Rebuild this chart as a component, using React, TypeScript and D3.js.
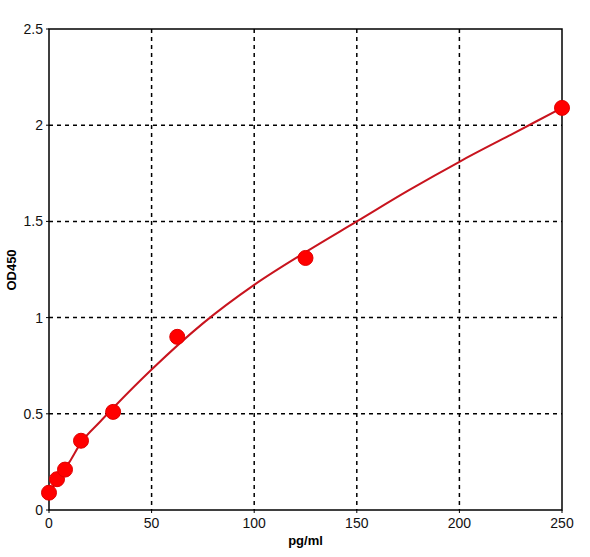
import React from 'react';
import * as d3 from 'd3';

// Standards (pg/ml) and measured OD450
const concentrations = [0, 3.9, 7.8, 15.6, 31.25, 62.5, 125, 250];
const odValues = [0.09, 0.16, 0.21, 0.36, 0.51, 0.9, 1.31, 2.09];

// Fitted standard curve
const curveX = [0, 5, 10, 15.6, 25, 31.25, 50, 75, 100, 125, 150, 175, 200, 225, 250];
const curveY = [0.09, 0.17, 0.25, 0.35, 0.46, 0.53, 0.73, 0.97, 1.17, 1.34, 1.5, 1.66, 1.81, 1.95, 2.09];

const xTicks = [0, 50, 100, 150, 200, 250];
const yTicks = [0, 0.5, 1, 1.5, 2, 2.5];

const W = 590;
const H = 557;
const margin = { top: 29, right: 28, bottom: 47, left: 49 };

const App: React.FC = () => {
  const innerW = W - margin.left - margin.right;
  const innerH = H - margin.top - margin.bottom;

  const x = d3.scaleLinear().domain([0, 250]).range([0, innerW]);
  const y = d3.scaleLinear().domain([0, 2.5]).range([innerH, 0]);

  const line = d3
    .line<number>()
    .x((_, i) => x(curveX[i]))
    .y(d => y(d))
    .curve(d3.curveMonotoneX);

  const font = '"Liberation Sans", Arial, sans-serif';

  return (
    <svg
      width={W}
      height={H}
      style={{ position: 'absolute', left: 0, top: 0, background: '#fff', fontFamily: font }}
    >
      <g transform={`translate(${margin.left},${margin.top})`}>
        {/* grid */}
        {xTicks.slice(1, -1).map(t => (
          <line key={'gx' + t} x1={x(t)} x2={x(t)} y1={0} y2={innerH}
            stroke="#000" strokeWidth={1.5} strokeDasharray="4,4" />
        ))}
        {yTicks.slice(1, -1).map(t => (
          <line key={'gy' + t} x1={0} x2={innerW} y1={y(t)} y2={y(t)}
            stroke="#000" strokeWidth={1.5} strokeDasharray="4,4" />
        ))}

        {/* frame */}
        <rect x={0} y={0} width={innerW} height={innerH} fill="none" stroke="#000" strokeWidth={1.5} />

        {/* y ticks */}
        {yTicks.map(t => (
          <g key={'ty' + t}>
            <line x1={-3} x2={0} y1={y(t)} y2={y(t)} stroke="#000" strokeWidth={1} />
            <text x={-6} y={y(t)} dy="0.35em" textAnchor="end" fontSize={14} fill="#111">
              {t}
            </text>
          </g>
        ))}

        {/* x ticks */}
        {xTicks.map(t => (
          <g key={'tx' + t}>
            <line x1={x(t)} x2={x(t)} y1={innerH} y2={innerH + 3} stroke="#000" strokeWidth={1} />
            <text x={x(t)} y={innerH + 18} textAnchor="middle" fontSize={14} fill="#111">
              {t}
            </text>
          </g>
        ))}

        {/* fitted curve */}
        <path d={line(curveY) || ''} fill="none" stroke="#c8141e" strokeWidth={2} />

        {/* points */}
        {concentrations.map((c, i) => (
          <circle key={'p' + i} cx={x(c)} cy={y(odValues[i])} r={7.5} fill="#ff0000" stroke="#e00000" strokeWidth={1} />
        ))}

        {/* axis titles */}
        <text x={innerW / 2} y={innerH + 35} textAnchor="middle" fontSize={13} fontWeight="bold" fill="#000">
          pg/ml
        </text>
      </g>
      <text
        transform="translate(16,270) rotate(-90)"
        textAnchor="middle"
        fontSize={13}
        fontWeight="bold"
        fill="#000"
      >
        OD450
      </text>
    </svg>
  );
};

export default App;
